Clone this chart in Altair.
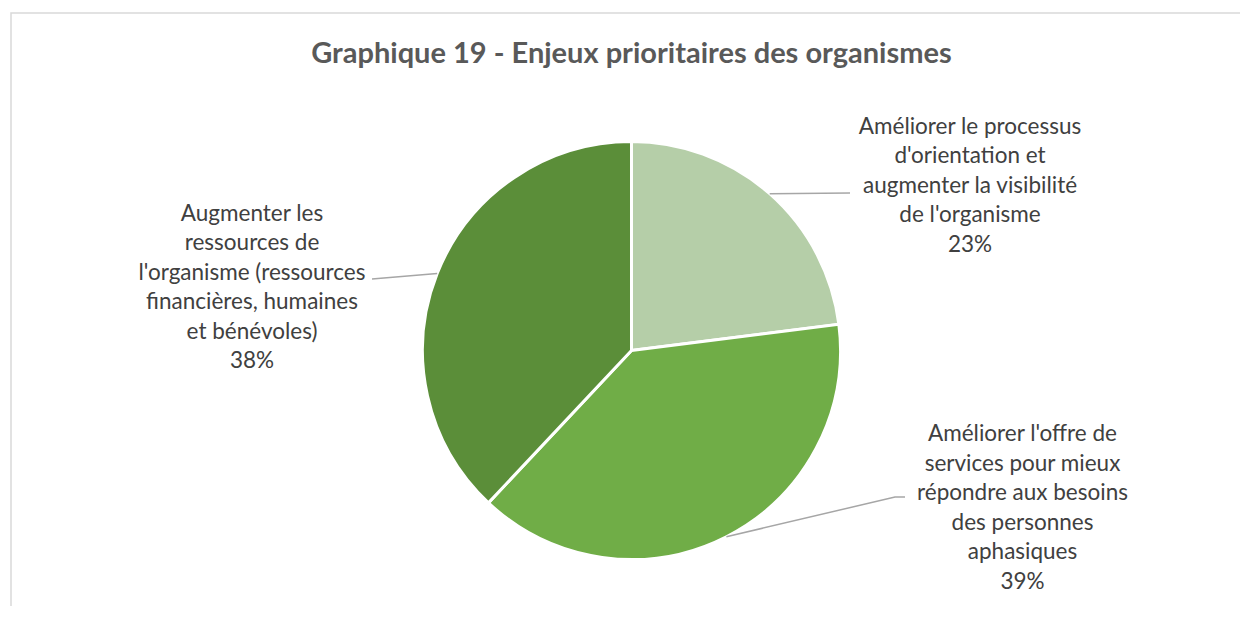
import altair as alt
import pandas as pd
import numpy as np

# ---------------- data ----------------
categories = [
    "Améliorer le processus d'orientation et augmenter la visibilité de l'organisme",
    "Améliorer l'offre de services pour mieux répondre aux besoins des personnes aphasiques",
    "Augmenter les ressources de l'organisme (ressources financières, humaines et bénévoles)",
]
values = [23, 39, 38]
label_lines = [
    ["Améliorer le processus", "d'orientation et", "augmenter la visibilité", "de l'organisme"],
    ["Améliorer l'offre de", "services pour mieux", "répondre aux besoins", "des personnes", "aphasiques"],
    ["Augmenter les", "ressources de", "l'organisme (ressources", "financières, humaines", "et bénévoles)"],
]
title_text = "Graphique 19 - Enjeux prioritaires des organismes"

# ---------------- style / layout ----------------
colors = ["#b5cea8", "#70ad47", "#5b8e39"]
W, H = 1232, 598
CX, CY, R = 623.5, 342.5, 209
FONT = "Lato"
TEXT_COLOR = "#404040"
label_anchor = [(962, 125.5), (1014.5, 433), (244, 212.5)]
leader_ends = [[(842, 185)], [(887, 489), (897, 489)], [(364, 271)]]

# ---------------- tables ----------------
pie_df = pd.DataFrame({"category": categories, "value": values, "order": range(len(values))})

total = sum(values)
cum = np.cumsum([0] + values[:-1])
lead_rows = []
for i, v in enumerate(values):
    ang = 2 * np.pi * (cum[i] + v / 2) / total
    pts = [(CX + R * np.sin(ang), CY - R * np.cos(ang))] + leader_ends[i]
    for k, (px, py) in enumerate(pts):
        lead_rows.append({"slice": i, "k": k, "px": px, "py": py})
lead_df = pd.DataFrame(lead_rows)

lab_df = pd.DataFrame({
    "text": ["\n".join(lines + [f"{v}%"]) for lines, v in zip(label_lines, values)],
    "px": [a[0] for a in label_anchor],
    "py": [a[1] for a in label_anchor],
})

one = pd.DataFrame({"t": [title_text]})

# ---------------- layers ----------------
frame = alt.Chart(one).mark_rect(fill=None, stroke="#d9d9d9", strokeWidth=1.5).encode(
    x=alt.value(3), x2=alt.value(1400), y=alt.value(5), y2=alt.value(800)
)

title = alt.Chart(one).mark_text(
    font=FONT, fontSize=29, fontWeight="bold", color="#595959", align="center", baseline="alphabetic"
).encode(x=alt.value(CX), y=alt.value(55), text="t:N")

pie = alt.Chart(pie_df).mark_arc(outerRadius=R, stroke="white", strokeWidth=3).encode(
    theta=alt.Theta("value:Q", stack=True),
    order=alt.Order("order:Q"),
    color=alt.Color("category:N", scale=alt.Scale(domain=categories, range=colors), legend=None),
    x=alt.value(CX),
    y=alt.value(CY),
)

leaders = alt.Chart(lead_df).mark_line(color="#a6a6a6", strokeWidth=1.5).encode(
    x=alt.X("px:Q", scale=None),
    y=alt.Y("py:Q", scale=None),
    detail="slice:N",
    order="k:Q",
)

labels = alt.Chart(lab_df).mark_text(
    font=FONT, fontSize=22.5, lineHeight=29.5, lineBreak="\n", color=TEXT_COLOR,
    align="center", baseline="alphabetic",
).encode(
    x=alt.X("px:Q", scale=None),
    y=alt.Y("py:Q", scale=None),
    text="text:N",
)

chart = alt.layer(frame, title, pie, leaders, labels).properties(
    width=W, height=H, padding=0, autosize=alt.AutoSizeParams(type="none")
).configure_view(stroke=None)

chart.save("out.html", embed_options={"renderer": "svg", "actions": False})
